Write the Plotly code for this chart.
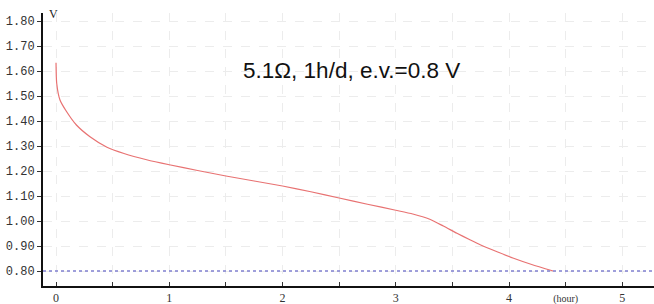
import plotly.graph_objects as go

hours = [0, 0.006, 0.035, 0.094, 0.18, 0.30, 0.45, 0.6, 0.8, 1.0, 1.25, 1.5, 1.75,
         2.0, 2.25, 2.5, 2.75, 3.0, 3.15, 3.3, 3.42, 3.54, 3.65, 3.75, 3.9, 4.04, 4.2, 4.39]
volts = [1.633, 1.551, 1.484, 1.437, 1.384, 1.337, 1.295, 1.27, 1.245, 1.225, 1.202, 1.18, 1.16,
         1.14, 1.117, 1.092, 1.067, 1.043, 1.028, 1.007, 0.98, 0.951, 0.926, 0.904, 0.876, 0.851, 0.826, 0.80]
cutoff = 0.8
annotation_text = "5.1\u03a9, 1h/d, e.v.=0.8 V"

y_tickvals = [0.8, 0.9, 1.0, 1.1, 1.2, 1.3, 1.4, 1.5, 1.6, 1.7, 1.8]
y_ticktext = ["0.80", "0.90", "1.00", "1.10", "1.20", "1.30", "1.40", "1.50", "1.60", "1.70", "1.80"]
x_tickvals = [0, 0.5, 1, 1.5, 2, 2.5, 3, 3.5, 4, 4.5, 5]
x_ticktext = ["0", "", "1", "", "2", "", "3", "", "4",
              "<span style='font-size:10px'>(hour)</span>", "5"]

fig = go.Figure()
fig.add_trace(go.Scatter(x=hours, y=volts, mode="lines",
                         line=dict(color="#e87272", width=1.2, shape="spline", smoothing=0.6),
                         showlegend=False, hoverinfo="skip"))
fig.add_hline(y=cutoff, line=dict(color="#8080d0", width=1.5, dash="dot"))

fig.add_annotation(x=2.61, y=1.603, text=annotation_text, showarrow=False,
                   font=dict(family="Liberation Sans, Arial", size=22.5, color="#111111"))
fig.add_annotation(x=0, y=1, xref="paper", yref="paper", text="V", showarrow=False,
                   xanchor="left", yanchor="middle", xshift=4, yshift=-1,
                   font=dict(family="Liberation Serif", size=12, color="#222222"))

fig.update_xaxes(range=[-0.115, 5.28], tickvals=x_tickvals, ticktext=x_ticktext,
                 showline=True, linecolor="#111111", linewidth=1.5,
                 ticks="inside", ticklen=4, tickcolor="#333333",
                 showgrid=True, gridcolor="#ececec", griddash="dash", gridwidth=1,
                 zeroline=False, automargin=False,
                 tickfont=dict(family="Liberation Serif", size=12, color="#333333"))
fig.update_yaxes(range=[0.74, 1.832], tickvals=y_tickvals, ticktext=y_ticktext,
                 showline=True, linecolor="#111111", linewidth=2,
                 ticks="outside", ticklen=4, tickcolor="#333333",
                 showgrid=True, gridcolor="#ececec", griddash="dash", gridwidth=1,
                 zeroline=False, automargin=False,
                 tickfont=dict(family="Liberation Mono", size=12, color="#333333"))

fig.update_layout(width=654, height=304, margin=dict(l=43, r=0, t=13, b=18),
                  plot_bgcolor="white", paper_bgcolor="white")

fig.write_html("out.html", config={"displayModeBar": False},
               post_script="document.body.style.margin='0';document.body.style.overflow='hidden';")
